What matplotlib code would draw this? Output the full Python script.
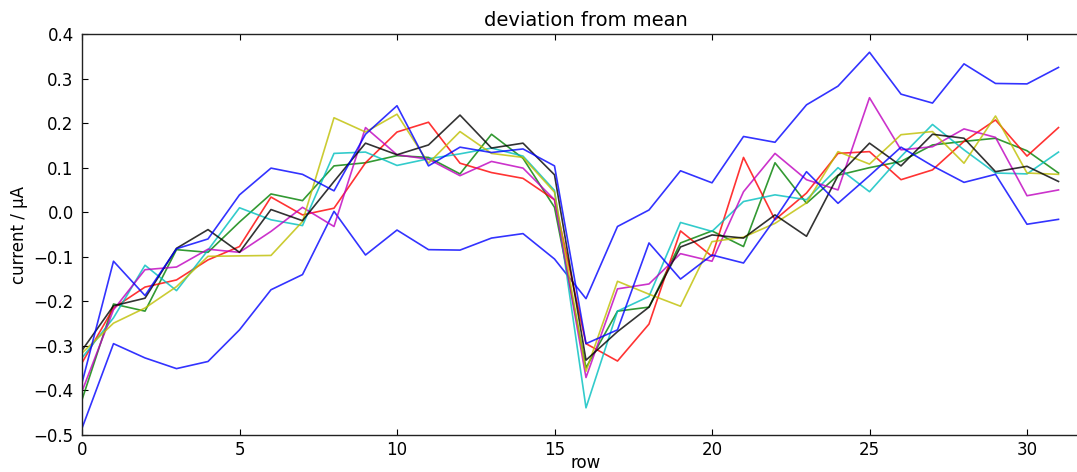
import matplotlib
matplotlib.use("Agg")
import matplotlib.pyplot as plt
import numpy as np

rows = np.arange(32)

# one series per measurement run, plotted in the old b/g/r/c/m/y/k cycle
run_b1 = [-0.485, -0.295, -0.327, -0.351, -0.335, -0.264, -0.174, -0.140,
          0.002, -0.096, -0.040, -0.084, -0.085, -0.058, -0.048, -0.105,
          -0.194, -0.032, 0.005, 0.093, 0.066, 0.170, 0.157, 0.241,
          0.283, 0.359, 0.265, 0.245, 0.333, 0.289, 0.288, 0.325]
run_g = [-0.421, -0.206, -0.222, -0.084, -0.090, -0.022, 0.041, 0.026,
         0.104, 0.111, 0.127, 0.123, 0.086, 0.175, 0.121, 0.011,
         -0.349, -0.222, -0.213, -0.069, -0.042, -0.077, 0.111, 0.020,
         0.083, 0.100, 0.114, 0.151, 0.159, 0.166, 0.138, 0.088]
run_r = [-0.338, -0.215, -0.168, -0.152, -0.107, -0.077, 0.034, -0.006,
         0.009, 0.111, 0.180, 0.202, 0.110, 0.089, 0.076, 0.028,
         -0.295, -0.334, -0.251, -0.042, -0.099, 0.123, -0.017, 0.043,
         0.132, 0.136, 0.073, 0.095, 0.159, 0.207, 0.126, 0.190]
run_c = [-0.327, -0.237, -0.119, -0.176, -0.085, 0.010, -0.017, -0.030,
         0.132, 0.135, 0.105, 0.120, 0.131, 0.144, 0.126, 0.049,
         -0.439, -0.222, -0.189, -0.023, -0.043, 0.024, 0.039, 0.028,
         0.100, 0.046, 0.125, 0.197, 0.140, 0.088, 0.086, 0.135]
run_m = [-0.402, -0.219, -0.129, -0.123, -0.083, -0.090, -0.043, 0.011,
         -0.032, 0.190, 0.129, 0.119, 0.082, 0.114, 0.099, 0.028,
         -0.371, -0.172, -0.161, -0.093, -0.110, 0.046, 0.132, 0.073,
         0.050, 0.257, 0.140, 0.147, 0.187, 0.168, 0.037, 0.050]
run_y = [-0.316, -0.249, -0.215, -0.167, -0.099, -0.098, -0.097, -0.021,
         0.212, 0.180, 0.220, 0.110, 0.181, 0.132, 0.123, 0.045,
         -0.357, -0.155, -0.184, -0.211, -0.066, -0.056, -0.025, 0.021,
         0.136, 0.108, 0.174, 0.181, 0.110, 0.216, 0.088, 0.085]
run_k = [-0.310, -0.210, -0.193, -0.081, -0.039, -0.090, 0.006, -0.019,
         0.069, 0.155, 0.129, 0.151, 0.218, 0.144, 0.155, 0.084,
         -0.332, -0.268, -0.213, -0.078, -0.051, -0.058, -0.006, -0.054,
         0.082, 0.155, 0.104, 0.175, 0.166, 0.091, 0.103, 0.069]
run_b2 = [-0.383, -0.110, -0.187, -0.082, -0.060, 0.039, 0.099, 0.085,
          0.048, 0.175, 0.239, 0.104, 0.146, 0.134, 0.142, 0.104,
          -0.295, -0.264, -0.069, -0.150, -0.096, -0.114, -0.015, 0.091,
          0.020, 0.082, 0.146, 0.104, 0.067, 0.085, -0.027, -0.016]

runs = [run_b1, run_g, run_r, run_c, run_m, run_y, run_k, run_b2]
colors = ['#0000ff', '#008000', '#ff0000', '#00bfbf', '#bf00bf', '#bfbf00',
          '#000000', '#0000ff']

y_ticks = np.round(np.arange(-0.5, 0.41, 0.1), 1)
x_ticks = [0, 5, 10, 15, 20, 25, 30]


def tick_text(v):
    v = round(v, 1) + 0.0  # drop the sign of -0.0
    return f'{v:.1f}'.replace('-', '\u2212')


fig = plt.figure(figsize=(10.77, 4.72), dpi=100)
# axes run a bit past the right border of the figure
ax = fig.add_axes([82 / 1077, 37 / 472, 1008 / 1077, 401 / 472])

for vals, col in zip(runs, colors):
    ax.plot(rows, vals, color=col, linewidth=1.2, alpha=0.8)

ax.set_xlim(0, 32)
ax.set_ylim(-0.5, 0.4)
ax.set_xticks(x_ticks)
ax.set_yticks(y_ticks)
ax.set_yticklabels([tick_text(v) for v in y_ticks])
ax.tick_params(direction='in', top=True, right=True, length=4, width=0.8,
               labelsize=12)
ax.tick_params(axis='x', pad=4)
ax.tick_params(axis='y', pad=6)
for sp in ax.spines.values():
    sp.set_linewidth(1.0)
    sp.set_color('#222222')

ax.set_title('deviation from mean', fontsize=14, pad=6)
ax.set_xlabel('row', fontsize=12, labelpad=-3)
ax.set_ylabel('current / µA', fontsize=12, labelpad=4)

fig.savefig('out.png', dpi=100, facecolor='white')
